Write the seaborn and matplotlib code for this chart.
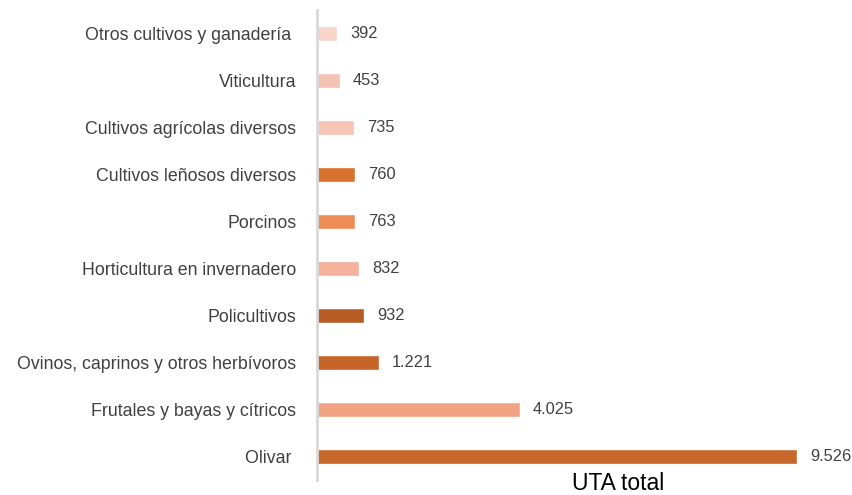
import matplotlib
matplotlib.use("Agg")
import matplotlib.pyplot as plt
import seaborn as sns
import pandas as pd

categories = [
    "Otros cultivos y ganadería ",
    "Viticultura",
    "Cultivos agrícolas diversos",
    "Cultivos leñosos diversos",
    "Porcinos",
    "Horticultura en invernadero",
    "Policultivos",
    "Ovinos, caprinos y otros herbívoros",
    "Frutales y bayas y cítricos",
    "Olivar ",
]
uta = [392, 453, 735, 760, 763, 832, 932, 1221, 4025, 9526]
colors = ["#F8D4C9", "#F5C3B3", "#F5C5B5", "#D9722E", "#EE8C58",
          "#F4B19B", "#B85C26", "#C6642A", "#F2A384", "#C7672A"]

df = pd.DataFrame({"categoria": categories, "uta": uta})

sns.set_style("white")
plt.rcParams["font.family"] = ["Liberation Sans", "DejaVu Sans"]

fig = plt.figure(figsize=(8.52, 4.95), dpi=100)
ax = fig.add_axes([317 / 852, 15 / 495, 535 / 852, 470 / 495])

sns.barplot(data=df, x="uta", y="categoria", hue="categoria",
            palette=colors, saturation=1, legend=False, width=0.34, ax=ax)

for i, v in enumerate(uta):
    ax.text(v + 260, i, f"{v:,}".replace(",", "."), va="center", ha="left",
            fontsize=11.8, color="#404040")

ax.set_xlim(0, 10615)
ax.set_ylim(9.5, -0.5)
ax.set_xticks([])
ax.set_ylabel("")
ax.set_xlabel("UTA total", fontsize=16.5, color="#000000", va="top")
ax.xaxis.set_label_coords((618 - 317) / 535, 0.018)
ax.tick_params(axis="y", length=0, pad=15, labelsize=12.8, labelcolor="#404040")

for s in ["top", "right", "bottom"]:
    ax.spines[s].set_visible(False)
ax.spines["left"].set_color("#D9D9D9")
ax.spines["left"].set_linewidth(2)

fig.savefig("out.png", dpi=100)
